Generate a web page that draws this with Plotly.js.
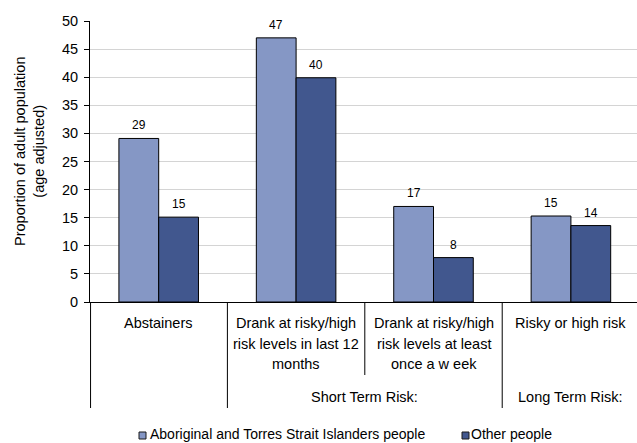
<!DOCTYPE html>
<html><head><meta charset="utf-8">
<script src="https://cdn.plot.ly/plotly-3.0.1.min.js"></script>
<style>html,body{margin:0;padding:0;background:#fff}#chart{width:637px;height:443px}</style>
</head><body><div id="chart"></div>
<script>
// ---- data ----
const categoryLabels = [
  ["Abstainers"],
  ["Drank at risky/high", "risk levels in last 12", "months"],
  ["Drank at risky/high", "risk levels at least", "once a w eek"],
  ["Risky or high risk"]
];
const seriesNames = ["Aboriginal and Torres Strait Islanders people", "Other people"];
const aboriginalValues = [29.1, 47.0, 17.0, 15.3];
const otherValues = [15.1, 39.9, 7.9, 13.6];
const aboriginalLabels = ["29", "47", "17", "15"];
const otherLabels = ["15", "40", "8", "14"];
const groupNames = ["", "Short Term Risk:", "Long Term Risk:"];
const groupMembers = [[0], [1, 2], [3]];
const yTickValues = [0, 5, 10, 15, 20, 25, 30, 35, 40, 45, 50];
const yTitle = "Proportion of adult population<br>(age adjusted)";

// ---- style ----
const FONT = "Liberation Sans, Arial, sans-serif";
const seriesColors = ["#8597C5", "#41578E"];
const W = 637, H = 443;
const M = {l: 90, r: 0, t: 21, b: 141};
const xRange = [-0.5, 3.481];
const bargap = 0.421;
const plotW = W - M.l - M.r, plotH = H - M.t - M.b;
const catPx = plotW / (xRange[1] - xRange[0]);
const barPx = (1 - bargap) * catPx / 2;
const belowAxis = px => -px / plotH;          // px below the x axis -> paper y
const pageX = px => (px - M.l) / plotW;       // page px -> paper x
const pageY = py => (H - M.b - py) / plotH;   // page py -> paper y

const xIdx = categoryLabels.map((_, i) => i);
const seriesValues = [aboriginalValues, otherValues];
const seriesLabels = [aboriginalLabels, otherLabels];

const traces = seriesNames.map((n, s) => ({
  type: "bar", name: n, x: xIdx, y: seriesValues[s],
  marker: {color: seriesColors[s], line: {color: "#000", width: 1}}, hoverinfo: "skip"
}));

const annotations = [];
// value labels
seriesValues.forEach((vals, s) => {
  const side = s === 0 ? -1 : 1;
  vals.forEach((v, i) => annotations.push({
    x: i, y: v, xref: "x", yref: "y", text: seriesLabels[s][i], showarrow: false,
    xshift: side * barPx / 2, yshift: 13, yanchor: "middle",
    font: {family: FONT, size: 12, color: "#000"}
  }));
});
// category labels, one annotation per line
categoryLabels.forEach((lines, i) => lines.forEach((t, k) => annotations.push({
  x: i, y: belowAxis(21 + k * 20.5), xref: "x", yref: "paper", text: t, showarrow: false,
  yanchor: "middle", font: {family: FONT, size: 14.5, color: "#000"}
})));
// group labels
groupNames.forEach((g, gi) => {
  if (!g) return;
  const mem = groupMembers[gi];
  const c = mem.reduce((a, b) => a + b, 0) / mem.length;
  annotations.push({x: c, y: belowAxis(95), xref: "x", yref: "paper", text: g, showarrow: false,
    yanchor: "middle", font: {family: FONT, size: 14.5, color: "#000"}});
});
// y title
annotations.push({x: pageX(29), y: pageY(152), xref: "paper", yref: "paper", text: yTitle, showarrow: false,
  textangle: -90, xanchor: "center", yanchor: "middle", font: {family: FONT, size: 14.5, color: "#000"}});

// separators under the axis
const shapes = [];
groupMembers.forEach((mem) => {
  mem.forEach((ci, k) => {
    const xb = ci - 0.5 + (ci === 0 ? 0.004 : 0);
    shapes.push({type: "line", xref: "x", yref: "paper", x0: xb, x1: xb,
      y0: 0, y1: belowAxis(k === 0 ? 106 : 73), line: {color: "#000", width: 1}});
  });
});

// legend (drawn as keys + text)
const legendKeyX = [139, 462];
const legendTextX = [149, 470];
const legendY = 434;
seriesNames.forEach((n, s) => {
  shapes.push({type: "rect", xref: "paper", yref: "paper",
    x0: pageX(legendKeyX[s]), x1: pageX(legendKeyX[s] + 7),
    y0: pageY(legendY - 2), y1: pageY(legendY + 5),
    fillcolor: seriesColors[s], line: {color: "#1a1a1a", width: 1}});
  annotations.push({x: pageX(legendTextX[s]), y: pageY(legendY), xref: "paper", yref: "paper",
    text: n, showarrow: false, xanchor: "left", yanchor: "middle", borderpad: 0,
    font: {family: FONT, size: 14, color: "#000"}});
});

const layout = {
  width: W, height: H, margin: M,
  paper_bgcolor: "#fff", plot_bgcolor: "#fff",
  font: {family: FONT, size: 14, color: "#000"},
  barmode: "group", bargap: bargap, bargroupgap: 0,
  showlegend: false,
  xaxis: {range: xRange, showticklabels: false, showgrid: false, zeroline: false,
    showline: true, linecolor: "#000", linewidth: 1, ticks: "", fixedrange: true},
  yaxis: {range: [0, 50], tickvals: yTickValues, showgrid: true, gridcolor: "#d4d4d4", gridwidth: 1,
    showline: true, linecolor: "#000", linewidth: 1, ticks: "outside", ticklen: 5, tickcolor: "#000",
    ticklabelstandoff: 3,
    zeroline: false, tickfont: {family: FONT, size: 14.5, color: "#000"}, fixedrange: true},
  annotations: annotations, shapes: shapes
};

Plotly.newPlot("chart", traces, layout, {displayModeBar: false, staticPlot: true});
</script>
</body></html>
